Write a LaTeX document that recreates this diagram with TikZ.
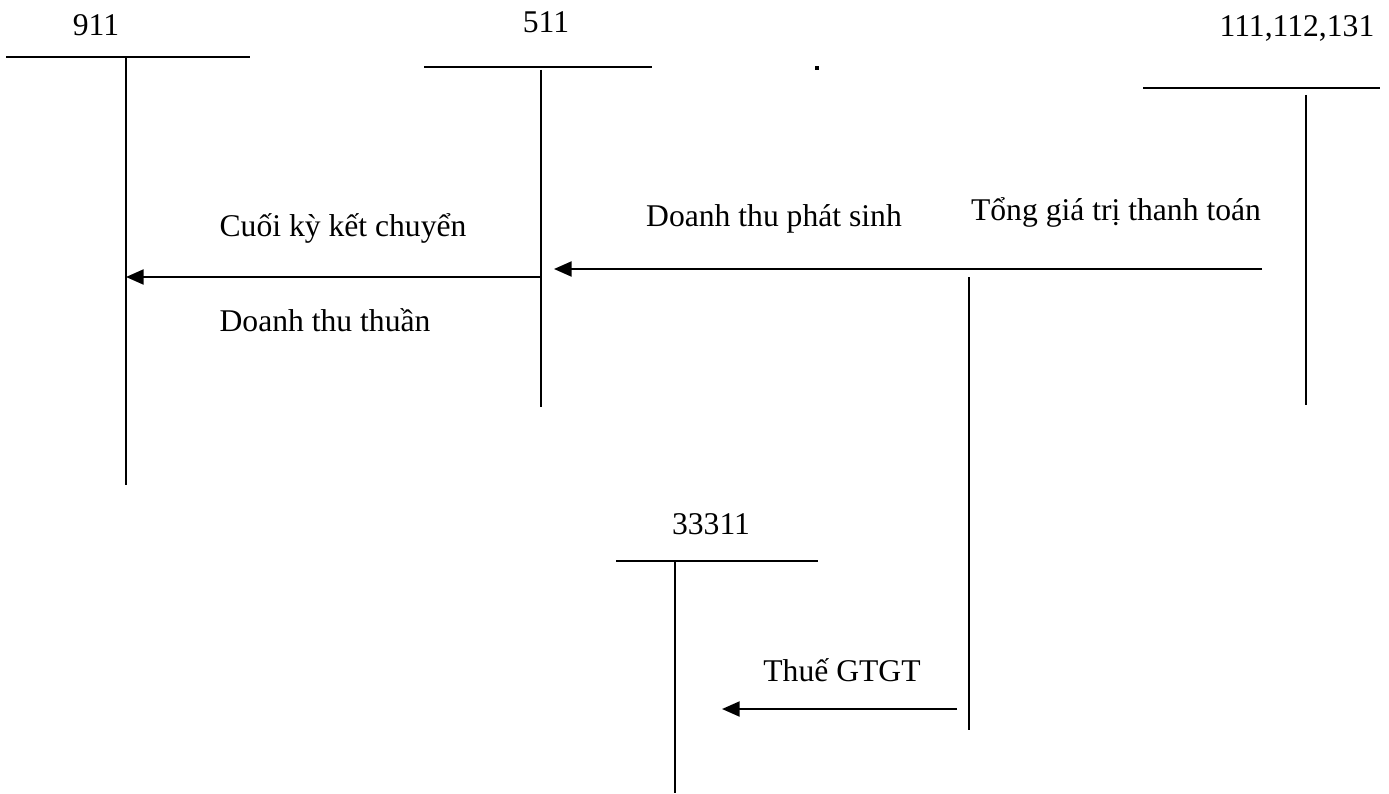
\documentclass[tikz,border=0pt]{standalone}
\usepackage{fontspec}
\setmainfont{Liberation Serif}
\usetikzlibrary{arrows.meta, positioning}

\begin{document}
\begin{tikzpicture}[x=0.02cm, y=-0.02cm,
    lbl/.style={inner sep=0pt, font=\fontsize{18}{21}\selectfont},
    top/.style={line width=1.2pt},
    side/.style={line width=0.9pt},
    flow/.style={line width=1.2pt, -{Triangle[length=10pt, width=8.5pt]}}]
        \useasboundingbox (0,0) rectangle (1389,794);
        % tai khoan 911
        \node[lbl] (911) at (96,25) {911};
        \draw[top] (6,57) -- (250,57);
        \draw[side] (126,57) -- (126,485);
        % tai khoan 511
        \node[lbl] (511) at (546,22) {511};
        \draw[top] (424,67) -- (652,67);
        \draw[side] (541,70) -- (541,407);
        \fill (815,66) rectangle (819,70);
        % tai khoan 111,112,131
        \node[lbl] (111) at (1297,28) {111,112,131};
        \draw[top] (1143,88) -- (1380,88);
        \draw[side] (1306,95) -- (1306,405);
        % tai khoan 33311
        \node[lbl] (33311) at (711,524) {33311};
        \draw[top] (616,561) -- (818,561);
        \draw[side] (675,561) -- (675,793);
        % diem noi
        \coordinate (k511) at (541,277);
        \coordinate (k911) at (126,277);
        \coordinate (tien) at (1262,269);
        \coordinate (v511) at (554,269);
        \coordinate (tach) at (969,277);
        \coordinate (tachend) at (969,730);
        \coordinate (thue) at (957,709);
        \coordinate (v33311) at (722,709);
        \draw[flow] (k511) -- (k911);
        \draw[flow] (tien) -- (v511);
        \draw[side] (tach) -- (tachend);
        \draw[flow] (thue) -- (v33311);
        % dien giai
        \node[lbl] (kc) at (343,228) {Cuối kỳ kết chuyển};
        \node[lbl] (dtt) at (325,320) {Doanh thu thuần};
        \node[lbl] (dtps) at (774,219) {Doanh thu phát sinh};
        \node[lbl] (tgt) at (1116,212) {Tổng giá trị thanh toán};
        \node[lbl] (gtgt) at (842,670) {Thuế GTGT};
    \end{tikzpicture}
\end{document}
